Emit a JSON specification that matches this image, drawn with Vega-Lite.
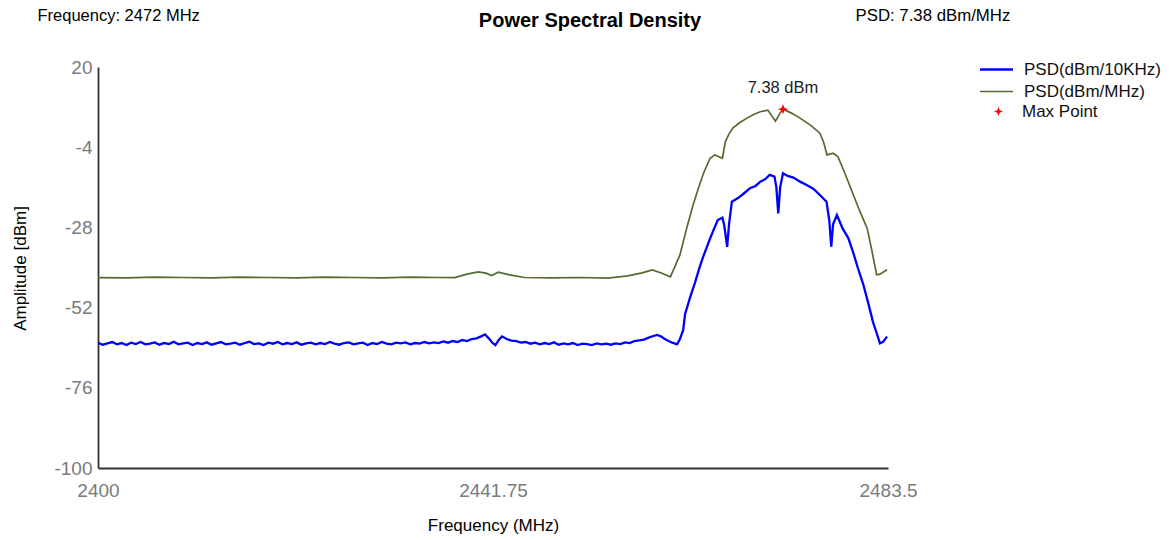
{
  "$schema": "https://vega.github.io/schema/vega-lite/v6.json",
  "width": 790,
  "height": 401,
  "autosize": {"type": "none"},
  "padding": {"left": 98, "top": 67, "right": 281, "bottom": 72},
  "background": "white",
  "config": {
    "view": {"stroke": null},
    "font": "Liberation Sans",
    "text": {"font": "Liberation Sans"}
  },
  "title": {
    "text": "Power Spectral Density",
    "anchor": "middle",
    "frame": "group",
    "dx": 97,
    "offset": -24,
    "fontSize": 20,
    "fontWeight": "bold",
    "font": "Liberation Sans",
    "color": "#000000"
  },
  "datasets": {
    "psd": [
      {"freq": 2400, "amp": -43.0, "series": "PSD(dBm/MHz)"},
      {"freq": 2403, "amp": -43.1, "series": "PSD(dBm/MHz)"},
      {"freq": 2406, "amp": -42.9, "series": "PSD(dBm/MHz)"},
      {"freq": 2409, "amp": -43.0, "series": "PSD(dBm/MHz)"},
      {"freq": 2412, "amp": -43.1, "series": "PSD(dBm/MHz)"},
      {"freq": 2415, "amp": -42.9, "series": "PSD(dBm/MHz)"},
      {"freq": 2418, "amp": -43.0, "series": "PSD(dBm/MHz)"},
      {"freq": 2421, "amp": -43.1, "series": "PSD(dBm/MHz)"},
      {"freq": 2424, "amp": -42.9, "series": "PSD(dBm/MHz)"},
      {"freq": 2427, "amp": -43.0, "series": "PSD(dBm/MHz)"},
      {"freq": 2430, "amp": -43.1, "series": "PSD(dBm/MHz)"},
      {"freq": 2433, "amp": -42.9, "series": "PSD(dBm/MHz)"},
      {"freq": 2436, "amp": -43.0, "series": "PSD(dBm/MHz)"},
      {"freq": 2437.7, "amp": -43.0, "series": "PSD(dBm/MHz)"},
      {"freq": 2439, "amp": -42.0, "series": "PSD(dBm/MHz)"},
      {"freq": 2440.2, "amp": -41.3, "series": "PSD(dBm/MHz)"},
      {"freq": 2441, "amp": -41.7, "series": "PSD(dBm/MHz)"},
      {"freq": 2441.6, "amp": -42.4, "series": "PSD(dBm/MHz)"},
      {"freq": 2442.3, "amp": -41.4, "series": "PSD(dBm/MHz)"},
      {"freq": 2443.5, "amp": -42.2, "series": "PSD(dBm/MHz)"},
      {"freq": 2445.1, "amp": -43.0, "series": "PSD(dBm/MHz)"},
      {"freq": 2448, "amp": -43.1, "series": "PSD(dBm/MHz)"},
      {"freq": 2451, "amp": -43.0, "series": "PSD(dBm/MHz)"},
      {"freq": 2453.9, "amp": -43.2, "series": "PSD(dBm/MHz)"},
      {"freq": 2456, "amp": -42.5, "series": "PSD(dBm/MHz)"},
      {"freq": 2457.5, "amp": -41.6, "series": "PSD(dBm/MHz)"},
      {"freq": 2458.6, "amp": -40.7, "series": "PSD(dBm/MHz)"},
      {"freq": 2459.6, "amp": -41.7, "series": "PSD(dBm/MHz)"},
      {"freq": 2460.5, "amp": -42.8, "series": "PSD(dBm/MHz)"},
      {"freq": 2461.5, "amp": -36.3, "series": "PSD(dBm/MHz)"},
      {"freq": 2462.2, "amp": -28.5, "series": "PSD(dBm/MHz)"},
      {"freq": 2462.9, "amp": -21.3, "series": "PSD(dBm/MHz)"},
      {"freq": 2463.4, "amp": -16.8, "series": "PSD(dBm/MHz)"},
      {"freq": 2464.0, "amp": -11.8, "series": "PSD(dBm/MHz)"},
      {"freq": 2464.7, "amp": -7.3, "series": "PSD(dBm/MHz)"},
      {"freq": 2465.2, "amp": -6.3, "series": "PSD(dBm/MHz)"},
      {"freq": 2466.0, "amp": -7.3, "series": "PSD(dBm/MHz)"},
      {"freq": 2466.3, "amp": -2.4, "series": "PSD(dBm/MHz)"},
      {"freq": 2466.7, "amp": 0.0, "series": "PSD(dBm/MHz)"},
      {"freq": 2467.1, "amp": 1.7, "series": "PSD(dBm/MHz)"},
      {"freq": 2467.8, "amp": 3.3, "series": "PSD(dBm/MHz)"},
      {"freq": 2468.6, "amp": 4.7, "series": "PSD(dBm/MHz)"},
      {"freq": 2469.3, "amp": 5.8, "series": "PSD(dBm/MHz)"},
      {"freq": 2470.0, "amp": 6.6, "series": "PSD(dBm/MHz)"},
      {"freq": 2470.8, "amp": 7.1, "series": "PSD(dBm/MHz)"},
      {"freq": 2471.6, "amp": 3.8, "series": "PSD(dBm/MHz)"},
      {"freq": 2472.1, "amp": 6.2, "series": "PSD(dBm/MHz)"},
      {"freq": 2472.4, "amp": 7.38, "series": "PSD(dBm/MHz)"},
      {"freq": 2473.3, "amp": 6.2, "series": "PSD(dBm/MHz)"},
      {"freq": 2474.2, "amp": 4.7, "series": "PSD(dBm/MHz)"},
      {"freq": 2475.3, "amp": 2.6, "series": "PSD(dBm/MHz)"},
      {"freq": 2476.3, "amp": 0.2, "series": "PSD(dBm/MHz)"},
      {"freq": 2476.7, "amp": -2.5, "series": "PSD(dBm/MHz)"},
      {"freq": 2477.05, "amp": -6.3, "series": "PSD(dBm/MHz)"},
      {"freq": 2477.7, "amp": -5.8, "series": "PSD(dBm/MHz)"},
      {"freq": 2478.2, "amp": -6.8, "series": "PSD(dBm/MHz)"},
      {"freq": 2478.9, "amp": -11.5, "series": "PSD(dBm/MHz)"},
      {"freq": 2479.8, "amp": -18.0, "series": "PSD(dBm/MHz)"},
      {"freq": 2480.5, "amp": -23.0, "series": "PSD(dBm/MHz)"},
      {"freq": 2481.3, "amp": -28.3, "series": "PSD(dBm/MHz)"},
      {"freq": 2481.8, "amp": -35.0, "series": "PSD(dBm/MHz)"},
      {"freq": 2482.3, "amp": -42.2, "series": "PSD(dBm/MHz)"},
      {"freq": 2482.65, "amp": -42.0, "series": "PSD(dBm/MHz)"},
      {"freq": 2483.4, "amp": -40.7, "series": "PSD(dBm/MHz)"},

      {"freq": 2400, "amp": -62.5, "series": "PSD(dBm/10KHz)"},
      {"freq": 2400.5, "amp": -63.1, "series": "PSD(dBm/10KHz)"},
      {"freq": 2401, "amp": -62.7, "series": "PSD(dBm/10KHz)"},
      {"freq": 2401.5, "amp": -62.3, "series": "PSD(dBm/10KHz)"},
      {"freq": 2402, "amp": -63.0, "series": "PSD(dBm/10KHz)"},
      {"freq": 2402.5, "amp": -62.6, "series": "PSD(dBm/10KHz)"},
      {"freq": 2403, "amp": -63.2, "series": "PSD(dBm/10KHz)"},
      {"freq": 2403.5, "amp": -62.5, "series": "PSD(dBm/10KHz)"},
      {"freq": 2404, "amp": -62.9, "series": "PSD(dBm/10KHz)"},
      {"freq": 2404.5, "amp": -62.3, "series": "PSD(dBm/10KHz)"},
      {"freq": 2405, "amp": -63.0, "series": "PSD(dBm/10KHz)"},
      {"freq": 2405.5, "amp": -62.8, "series": "PSD(dBm/10KHz)"},
      {"freq": 2406, "amp": -62.4, "series": "PSD(dBm/10KHz)"},
      {"freq": 2406.5, "amp": -63.1, "series": "PSD(dBm/10KHz)"},
      {"freq": 2407, "amp": -62.6, "series": "PSD(dBm/10KHz)"},
      {"freq": 2407.5, "amp": -62.9, "series": "PSD(dBm/10KHz)"},
      {"freq": 2408, "amp": -62.2, "series": "PSD(dBm/10KHz)"},
      {"freq": 2408.5, "amp": -63.0, "series": "PSD(dBm/10KHz)"},
      {"freq": 2409, "amp": -62.7, "series": "PSD(dBm/10KHz)"},
      {"freq": 2409.5, "amp": -62.5, "series": "PSD(dBm/10KHz)"},
      {"freq": 2410, "amp": -63.2, "series": "PSD(dBm/10KHz)"},
      {"freq": 2410.5, "amp": -62.6, "series": "PSD(dBm/10KHz)"},
      {"freq": 2411, "amp": -62.9, "series": "PSD(dBm/10KHz)"},
      {"freq": 2411.5, "amp": -62.4, "series": "PSD(dBm/10KHz)"},
      {"freq": 2412, "amp": -63.1, "series": "PSD(dBm/10KHz)"},
      {"freq": 2412.5, "amp": -62.7, "series": "PSD(dBm/10KHz)"},
      {"freq": 2413, "amp": -62.3, "series": "PSD(dBm/10KHz)"},
      {"freq": 2413.5, "amp": -63.0, "series": "PSD(dBm/10KHz)"},
      {"freq": 2414, "amp": -62.8, "series": "PSD(dBm/10KHz)"},
      {"freq": 2414.5, "amp": -62.5, "series": "PSD(dBm/10KHz)"},
      {"freq": 2415, "amp": -63.1, "series": "PSD(dBm/10KHz)"},
      {"freq": 2415.5, "amp": -62.6, "series": "PSD(dBm/10KHz)"},
      {"freq": 2416, "amp": -62.2, "series": "PSD(dBm/10KHz)"},
      {"freq": 2416.5, "amp": -62.9, "series": "PSD(dBm/10KHz)"},
      {"freq": 2417, "amp": -62.7, "series": "PSD(dBm/10KHz)"},
      {"freq": 2417.5, "amp": -63.2, "series": "PSD(dBm/10KHz)"},
      {"freq": 2418, "amp": -62.5, "series": "PSD(dBm/10KHz)"},
      {"freq": 2418.5, "amp": -62.8, "series": "PSD(dBm/10KHz)"},
      {"freq": 2419, "amp": -62.3, "series": "PSD(dBm/10KHz)"},
      {"freq": 2419.5, "amp": -63.0, "series": "PSD(dBm/10KHz)"},
      {"freq": 2420, "amp": -62.6, "series": "PSD(dBm/10KHz)"},
      {"freq": 2420.5, "amp": -62.9, "series": "PSD(dBm/10KHz)"},
      {"freq": 2421, "amp": -62.4, "series": "PSD(dBm/10KHz)"},
      {"freq": 2421.5, "amp": -63.1, "series": "PSD(dBm/10KHz)"},
      {"freq": 2422, "amp": -62.7, "series": "PSD(dBm/10KHz)"},
      {"freq": 2422.5, "amp": -62.5, "series": "PSD(dBm/10KHz)"},
      {"freq": 2423, "amp": -63.0, "series": "PSD(dBm/10KHz)"},
      {"freq": 2423.5, "amp": -62.6, "series": "PSD(dBm/10KHz)"},
      {"freq": 2424, "amp": -62.9, "series": "PSD(dBm/10KHz)"},
      {"freq": 2424.5, "amp": -62.3, "series": "PSD(dBm/10KHz)"},
      {"freq": 2425, "amp": -62.8, "series": "PSD(dBm/10KHz)"},
      {"freq": 2425.5, "amp": -63.1, "series": "PSD(dBm/10KHz)"},
      {"freq": 2426, "amp": -62.6, "series": "PSD(dBm/10KHz)"},
      {"freq": 2426.5, "amp": -62.4, "series": "PSD(dBm/10KHz)"},
      {"freq": 2427, "amp": -63.0, "series": "PSD(dBm/10KHz)"},
      {"freq": 2427.5, "amp": -62.7, "series": "PSD(dBm/10KHz)"},
      {"freq": 2428, "amp": -62.5, "series": "PSD(dBm/10KHz)"},
      {"freq": 2428.5, "amp": -63.2, "series": "PSD(dBm/10KHz)"},
      {"freq": 2429, "amp": -62.6, "series": "PSD(dBm/10KHz)"},
      {"freq": 2429.5, "amp": -62.9, "series": "PSD(dBm/10KHz)"},
      {"freq": 2430, "amp": -62.3, "series": "PSD(dBm/10KHz)"},
      {"freq": 2430.5, "amp": -62.8, "series": "PSD(dBm/10KHz)"},
      {"freq": 2431, "amp": -63.0, "series": "PSD(dBm/10KHz)"},
      {"freq": 2431.5, "amp": -62.5, "series": "PSD(dBm/10KHz)"},
      {"freq": 2432, "amp": -62.7, "series": "PSD(dBm/10KHz)"},
      {"freq": 2432.5, "amp": -62.4, "series": "PSD(dBm/10KHz)"},
      {"freq": 2433, "amp": -63.0, "series": "PSD(dBm/10KHz)"},
      {"freq": 2433.5, "amp": -62.6, "series": "PSD(dBm/10KHz)"},
      {"freq": 2434, "amp": -62.8, "series": "PSD(dBm/10KHz)"},
      {"freq": 2434.5, "amp": -62.3, "series": "PSD(dBm/10KHz)"},
      {"freq": 2435, "amp": -62.7, "series": "PSD(dBm/10KHz)"},
      {"freq": 2435.5, "amp": -62.4, "series": "PSD(dBm/10KHz)"},
      {"freq": 2436, "amp": -62.6, "series": "PSD(dBm/10KHz)"},
      {"freq": 2436.5, "amp": -62.1, "series": "PSD(dBm/10KHz)"},
      {"freq": 2437, "amp": -62.5, "series": "PSD(dBm/10KHz)"},
      {"freq": 2437.5, "amp": -62.0, "series": "PSD(dBm/10KHz)"},
      {"freq": 2438, "amp": -62.3, "series": "PSD(dBm/10KHz)"},
      {"freq": 2438.5, "amp": -61.7, "series": "PSD(dBm/10KHz)"},
      {"freq": 2439, "amp": -62.0, "series": "PSD(dBm/10KHz)"},
      {"freq": 2439.5, "amp": -61.4, "series": "PSD(dBm/10KHz)"},
      {"freq": 2440, "amp": -61.2, "series": "PSD(dBm/10KHz)"},
      {"freq": 2440.5, "amp": -60.6, "series": "PSD(dBm/10KHz)"},
      {"freq": 2440.9, "amp": -60.0, "series": "PSD(dBm/10KHz)"},
      {"freq": 2441.3, "amp": -61.2, "series": "PSD(dBm/10KHz)"},
      {"freq": 2441.7, "amp": -62.6, "series": "PSD(dBm/10KHz)"},
      {"freq": 2442.0, "amp": -63.2, "series": "PSD(dBm/10KHz)"},
      {"freq": 2442.4, "amp": -61.5, "series": "PSD(dBm/10KHz)"},
      {"freq": 2442.7, "amp": -60.6, "series": "PSD(dBm/10KHz)"},
      {"freq": 2443.2, "amp": -61.4, "series": "PSD(dBm/10KHz)"},
      {"freq": 2443.7, "amp": -61.9, "series": "PSD(dBm/10KHz)"},
      {"freq": 2444.2, "amp": -62.0, "series": "PSD(dBm/10KHz)"},
      {"freq": 2444.7, "amp": -62.5, "series": "PSD(dBm/10KHz)"},
      {"freq": 2445.2, "amp": -62.3, "series": "PSD(dBm/10KHz)"},
      {"freq": 2445.7, "amp": -62.8, "series": "PSD(dBm/10KHz)"},
      {"freq": 2446.2, "amp": -62.5, "series": "PSD(dBm/10KHz)"},
      {"freq": 2446.7, "amp": -63.0, "series": "PSD(dBm/10KHz)"},
      {"freq": 2447.2, "amp": -62.6, "series": "PSD(dBm/10KHz)"},
      {"freq": 2447.7, "amp": -62.9, "series": "PSD(dBm/10KHz)"},
      {"freq": 2448.2, "amp": -62.4, "series": "PSD(dBm/10KHz)"},
      {"freq": 2448.7, "amp": -63.1, "series": "PSD(dBm/10KHz)"},
      {"freq": 2449.2, "amp": -62.7, "series": "PSD(dBm/10KHz)"},
      {"freq": 2449.7, "amp": -63.0, "series": "PSD(dBm/10KHz)"},
      {"freq": 2450.2, "amp": -62.6, "series": "PSD(dBm/10KHz)"},
      {"freq": 2450.7, "amp": -63.2, "series": "PSD(dBm/10KHz)"},
      {"freq": 2451.2, "amp": -62.8, "series": "PSD(dBm/10KHz)"},
      {"freq": 2451.7, "amp": -62.9, "series": "PSD(dBm/10KHz)"},
      {"freq": 2452.2, "amp": -63.2, "series": "PSD(dBm/10KHz)"},
      {"freq": 2452.7, "amp": -62.7, "series": "PSD(dBm/10KHz)"},
      {"freq": 2453.2, "amp": -63.0, "series": "PSD(dBm/10KHz)"},
      {"freq": 2453.7, "amp": -62.8, "series": "PSD(dBm/10KHz)"},
      {"freq": 2454.2, "amp": -63.1, "series": "PSD(dBm/10KHz)"},
      {"freq": 2454.7, "amp": -62.7, "series": "PSD(dBm/10KHz)"},
      {"freq": 2455.2, "amp": -62.9, "series": "PSD(dBm/10KHz)"},
      {"freq": 2455.7, "amp": -62.4, "series": "PSD(dBm/10KHz)"},
      {"freq": 2456.2, "amp": -62.6, "series": "PSD(dBm/10KHz)"},
      {"freq": 2456.7, "amp": -62.0, "series": "PSD(dBm/10KHz)"},
      {"freq": 2457.2, "amp": -61.8, "series": "PSD(dBm/10KHz)"},
      {"freq": 2457.7, "amp": -61.6, "series": "PSD(dBm/10KHz)"},
      {"freq": 2458.2, "amp": -61.0, "series": "PSD(dBm/10KHz)"},
      {"freq": 2458.7, "amp": -60.5, "series": "PSD(dBm/10KHz)"},
      {"freq": 2459.1, "amp": -60.2, "series": "PSD(dBm/10KHz)"},
      {"freq": 2459.5, "amp": -60.6, "series": "PSD(dBm/10KHz)"},
      {"freq": 2459.9, "amp": -61.4, "series": "PSD(dBm/10KHz)"},
      {"freq": 2460.3, "amp": -62.0, "series": "PSD(dBm/10KHz)"},
      {"freq": 2460.7, "amp": -62.5, "series": "PSD(dBm/10KHz)"},
      {"freq": 2461.2, "amp": -63.0, "series": "PSD(dBm/10KHz)"},
      {"freq": 2461.5, "amp": -61.5, "series": "PSD(dBm/10KHz)"},
      {"freq": 2461.85, "amp": -58.7, "series": "PSD(dBm/10KHz)"},
      {"freq": 2462.05, "amp": -54.0, "series": "PSD(dBm/10KHz)"},
      {"freq": 2462.6, "amp": -48.8, "series": "PSD(dBm/10KHz)"},
      {"freq": 2463.1, "amp": -44.5, "series": "PSD(dBm/10KHz)"},
      {"freq": 2463.6, "amp": -39.8, "series": "PSD(dBm/10KHz)"},
      {"freq": 2464.0, "amp": -36.5, "series": "PSD(dBm/10KHz)"},
      {"freq": 2464.7, "amp": -31.3, "series": "PSD(dBm/10KHz)"},
      {"freq": 2465.1, "amp": -28.5, "series": "PSD(dBm/10KHz)"},
      {"freq": 2465.5, "amp": -25.8, "series": "PSD(dBm/10KHz)"},
      {"freq": 2466.0, "amp": -25.1, "series": "PSD(dBm/10KHz)"},
      {"freq": 2466.2, "amp": -27.5, "series": "PSD(dBm/10KHz)"},
      {"freq": 2466.5, "amp": -33.8, "series": "PSD(dBm/10KHz)"},
      {"freq": 2466.7, "amp": -27.0, "series": "PSD(dBm/10KHz)"},
      {"freq": 2467.0, "amp": -20.3, "series": "PSD(dBm/10KHz)"},
      {"freq": 2467.6, "amp": -19.3, "series": "PSD(dBm/10KHz)"},
      {"freq": 2468.2, "amp": -18.0, "series": "PSD(dBm/10KHz)"},
      {"freq": 2468.9, "amp": -16.3, "series": "PSD(dBm/10KHz)"},
      {"freq": 2469.5, "amp": -15.6, "series": "PSD(dBm/10KHz)"},
      {"freq": 2470.0, "amp": -14.3, "series": "PSD(dBm/10KHz)"},
      {"freq": 2470.5, "amp": -13.6, "series": "PSD(dBm/10KHz)"},
      {"freq": 2471.0, "amp": -12.3, "series": "PSD(dBm/10KHz)"},
      {"freq": 2471.5, "amp": -12.8, "series": "PSD(dBm/10KHz)"},
      {"freq": 2471.7, "amp": -16.0, "series": "PSD(dBm/10KHz)"},
      {"freq": 2471.9, "amp": -23.8, "series": "PSD(dBm/10KHz)"},
      {"freq": 2472.1, "amp": -16.0, "series": "PSD(dBm/10KHz)"},
      {"freq": 2472.4, "amp": -11.8, "series": "PSD(dBm/10KHz)"},
      {"freq": 2472.9, "amp": -12.6, "series": "PSD(dBm/10KHz)"},
      {"freq": 2473.5, "amp": -13.1, "series": "PSD(dBm/10KHz)"},
      {"freq": 2474.2, "amp": -14.3, "series": "PSD(dBm/10KHz)"},
      {"freq": 2474.9, "amp": -15.3, "series": "PSD(dBm/10KHz)"},
      {"freq": 2475.6, "amp": -16.4, "series": "PSD(dBm/10KHz)"},
      {"freq": 2476.3, "amp": -18.3, "series": "PSD(dBm/10KHz)"},
      {"freq": 2477.0, "amp": -20.3, "series": "PSD(dBm/10KHz)"},
      {"freq": 2477.3, "amp": -26.0, "series": "PSD(dBm/10KHz)"},
      {"freq": 2477.5, "amp": -33.8, "series": "PSD(dBm/10KHz)"},
      {"freq": 2477.7, "amp": -27.0, "series": "PSD(dBm/10KHz)"},
      {"freq": 2478.1, "amp": -24.3, "series": "PSD(dBm/10KHz)"},
      {"freq": 2478.7, "amp": -28.3, "series": "PSD(dBm/10KHz)"},
      {"freq": 2479.3, "amp": -31.2, "series": "PSD(dBm/10KHz)"},
      {"freq": 2479.8, "amp": -35.3, "series": "PSD(dBm/10KHz)"},
      {"freq": 2480.3, "amp": -40.0, "series": "PSD(dBm/10KHz)"},
      {"freq": 2480.9, "amp": -45.2, "series": "PSD(dBm/10KHz)"},
      {"freq": 2481.4, "amp": -50.5, "series": "PSD(dBm/10KHz)"},
      {"freq": 2481.9, "amp": -56.2, "series": "PSD(dBm/10KHz)"},
      {"freq": 2482.3, "amp": -59.6, "series": "PSD(dBm/10KHz)"},
      {"freq": 2482.65, "amp": -62.7, "series": "PSD(dBm/10KHz)"},
      {"freq": 2483.0, "amp": -62.2, "series": "PSD(dBm/10KHz)"},
      {"freq": 2483.4, "amp": -60.7, "series": "PSD(dBm/10KHz)"}
    ],
    "peak": [
      {"freq": 2472.4, "amp": 7.38, "series": "Max Point", "label": "7.38 dBm"}
    ]
  },
  "layer": [
    {
      "data": {"name": "psd"},
      "mark": {"type": "line", "clip": true},
      "encoding": {
        "x": {
          "field": "freq", "type": "quantitative",
          "scale": {"domain": [2400, 2483.5], "nice": false, "zero": false},
          "axis": {
            "orient": "bottom",
            "values": [2400, 2441.75, 2483.5],
            "labelExpr": "'' + datum.value",
            "labelAlign": "center",
            "labelFontSize": 19,
            "labelColor": "#7a7a7a",
            "labelPadding": 13,
            "labelFont": "Liberation Sans",
            "ticks": false,
            "grid": false,
            "domainColor": "#333333",
            "domainWidth": 1.8,
            "title": "Frequency (MHz)",
            "titleFont": "Liberation Sans",
            "titleFontSize": 17,
            "titleFontWeight": "normal",
            "titleColor": "#000000",
            "titleBaseline": "middle",
            "titleY": 57
          }
        },
        "y": {
          "field": "amp", "type": "quantitative",
          "scale": {"domain": [-100, 20], "nice": false, "zero": false},
          "axis": {
            "orient": "left",
            "values": [20, -4, -28, -52, -76, -100],
            "labelExpr": "'' + datum.value",
            "labelFontSize": 19,
            "labelColor": "#7a7a7a",
            "labelPadding": 6,
            "labelFont": "Liberation Sans",
            "ticks": false,
            "grid": false,
            "domainColor": "#333333",
            "domainWidth": 1.8,
            "title": "Amplitude [dBm]",
            "titleFont": "Liberation Sans",
            "titleFontSize": 17,
            "titleFontWeight": "normal",
            "titleColor": "#000000",
            "titleBaseline": "middle",
            "titleAlign": "center",
            "titleX": -78,
            "titleY": 201
          }
        },
        "stroke": {
          "field": "series", "type": "nominal",
          "scale": {"domain": ["PSD(dBm/10KHz)", "PSD(dBm/MHz)"], "range": ["#0000FF", "#556B2F"]},
          "legend": {
            "title": null,
            "orient": "none",
            "legendX": 890,
            "legendY": -6,
            "symbolType": "M-3,0L3,0",
            "symbolSize": 121,
            "symbolStrokeWidth": 2.5,
            "labelFontSize": 17,
            "labelFont": "Liberation Sans",
            "labelColor": "#111111",
            "labelOffset": 19,
            "rowPadding": 4
          }
        },
        "strokeWidth": {
          "field": "series", "type": "nominal",
          "scale": {"domain": ["PSD(dBm/10KHz)", "PSD(dBm/MHz)"], "range": [2.3, 1.7]},
          "legend": null
        }
      }
    },
    {
      "data": {"name": "peak"},
      "mark": {"type": "point", "shape": "M0,-1L0.28,-0.28L1,0L0.28,0.28L0,1L-0.28,0.28L-1,0L-0.28,-0.28Z", "filled": true, "size": 100, "opacity": 1},
      "encoding": {
        "x": {
          "field": "freq", "type": "quantitative",
          "axis": {
            "orient": "top",
            "domain": false, "ticks": false, "labels": false, "grid": false,
            "title": "Frequency: 2472 MHz",
            "titleFont": "Liberation Sans",
            "titleFontSize": 16.5,
            "titleFontWeight": "normal",
            "titleColor": "#000000",
            "titleAlign": "left",
            "titleAnchor": "start",
            "titleBaseline": "middle",
            "titleX": -61,
            "titleY": -52
          }
        },
        "y": {
          "field": "amp", "type": "quantitative",
          "axis": {
            "orient": "right",
            "domain": false, "ticks": false, "labels": false, "grid": false,
            "title": "PSD: 7.38 dBm/MHz",
            "titleFont": "Liberation Sans",
            "titleFontSize": 16.8,
            "titleFontWeight": "normal",
            "titleColor": "#000000",
            "titleAngle": 0,
            "titleAlign": "left",
            "titleBaseline": "middle",
            "titleX": -33,
            "titleY": -52
          }
        },
        "fill": {
          "field": "series", "type": "nominal",
          "scale": {"domain": ["Max Point"], "range": ["#FF0000"]},
          "legend": {
            "title": null,
            "orient": "none",
            "legendX": 892,
            "legendY": 36,
            "symbolType": "M0,-1L0.28,-0.28L1,0L0.28,0.28L0,1L-0.28,0.28L-1,0L-0.28,-0.28Z",
            "symbolSize": 80,
            "symbolStrokeWidth": 0,
            "labelFontSize": 17,
            "labelFont": "Liberation Sans",
            "labelColor": "#111111",
            "labelOffset": 15
          }
        }
      }
    },
    {
      "data": {"name": "peak"},
      "mark": {"type": "text", "dy": -21, "fontSize": 16.5, "font": "Liberation Sans", "color": "#222222", "baseline": "middle"},
      "encoding": {
        "x": {"field": "freq", "type": "quantitative", "axis": null},
        "y": {"field": "amp", "type": "quantitative", "axis": null},
        "text": {"field": "label"}
      }
    }
  ],
  "resolve": {"axis": {"x": "independent", "y": "independent"}}
}
